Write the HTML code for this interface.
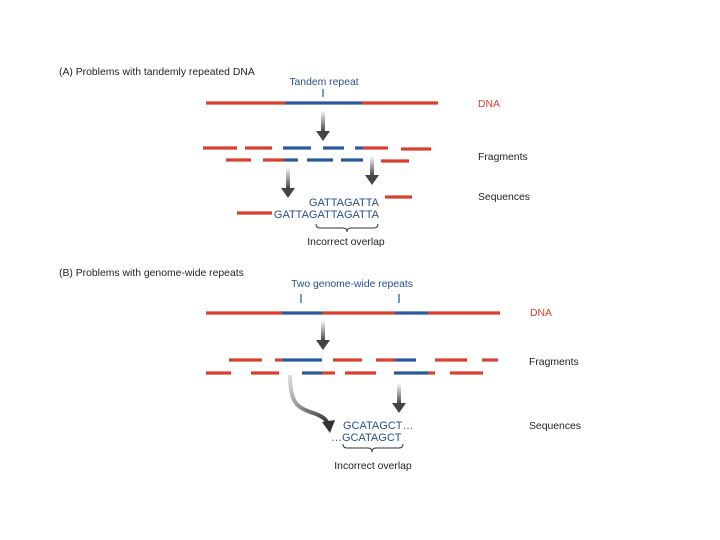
<!DOCTYPE html>
<html><head><meta charset="utf-8"><style>
html,body{margin:0;padding:0;background:#fff}
svg{display:block}
text{font-family:"Liberation Sans",sans-serif;font-size:10.4px}
.k{fill:#222}.b{fill:#2a4f8c}.r{fill:#d9402e}
.s{font-size:11px}
</style></head><body>
<svg width="720" height="540" viewBox="0 0 720 540" xmlns="http://www.w3.org/2000/svg">
<defs>
<linearGradient id="g" x1="0" y1="0" x2="0" y2="1"><stop offset="0" stop-color="#fff"/><stop offset="1" stop-color="#444"/></linearGradient>
<linearGradient id="g2" x1="0" y1="0" x2="1" y2="1"><stop offset="0" stop-color="#ddd"/><stop offset="1" stop-color="#333"/></linearGradient>
</defs>
<g stroke-width="3.2" fill="none">
<g stroke="#d9402e">
<line x1="206" y1="103" x2="285" y2="103"/><line x1="362" y1="103" x2="438" y2="103"/>
<line x1="203" y1="148" x2="237" y2="148"/><line x1="245" y1="148" x2="272" y2="148"/><line x1="363" y1="148" x2="388" y2="148"/><line x1="401" y1="149" x2="431" y2="149"/>
<line x1="226" y1="160" x2="251" y2="160"/><line x1="263" y1="160" x2="284" y2="160"/><line x1="381" y1="161" x2="409" y2="161"/>
<line x1="237" y1="213" x2="272" y2="213"/><line x1="385" y1="197" x2="412" y2="197"/>
</g>
<g stroke="#2a5a9a">
<line x1="285" y1="103" x2="362" y2="103"/>
<line x1="283" y1="148" x2="311" y2="148"/><line x1="323" y1="148" x2="344" y2="148"/><line x1="355" y1="148" x2="363" y2="148"/>
<line x1="284" y1="160" x2="298" y2="160"/><line x1="307" y1="160" x2="333" y2="160"/><line x1="341" y1="160" x2="363" y2="160"/>
</g>
<g stroke="#d9402e">
<line x1="206" y1="313" x2="282" y2="313"/><line x1="322" y1="313" x2="395" y2="313"/><line x1="428" y1="313" x2="500" y2="313"/>
<line x1="229" y1="360" x2="262" y2="360"/><line x1="275" y1="360" x2="282" y2="360"/><line x1="333" y1="360" x2="362" y2="360"/><line x1="376" y1="360" x2="395" y2="360"/><line x1="435" y1="360" x2="467" y2="360"/><line x1="482" y1="360" x2="498" y2="360"/>
<line x1="206" y1="373" x2="231" y2="373"/><line x1="251" y1="373" x2="279" y2="373"/><line x1="322" y1="373" x2="335" y2="373"/><line x1="345" y1="373" x2="376" y2="373"/><line x1="428" y1="373" x2="435" y2="373"/><line x1="450" y1="373" x2="483" y2="373"/>
</g>
<g stroke="#2a5a9a">
<line x1="282" y1="313" x2="322" y2="313"/><line x1="395" y1="313" x2="428" y2="313"/>
<line x1="282" y1="360" x2="322" y2="360"/><line x1="395" y1="360" x2="416" y2="360"/>
<line x1="302" y1="373" x2="322" y2="373"/><line x1="394" y1="373" x2="428" y2="373"/>
</g>
</g>
<g stroke="#2a5a9a" stroke-width="1.2">
<line x1="323" y1="89" x2="323" y2="97"/><line x1="301" y1="294" x2="301" y2="303"/><line x1="399" y1="294" x2="399" y2="303"/>
</g>
<g>
<rect x="321" y="110" width="4" height="22" fill="url(#g)"/><polygon points="316,131 330,131 323,141" fill="#444"/>
<rect x="286" y="167" width="4" height="22" fill="url(#g)"/><polygon points="281,188 295,188 288,198" fill="#444"/>
<rect x="370" y="156" width="4" height="20" fill="url(#g)"/><polygon points="365,175 379,175 372,185" fill="#444"/>
<rect x="321" y="320" width="4" height="21" fill="url(#g)"/><polygon points="316,340 330,340 323,350" fill="#444"/>
<rect x="397" y="383" width="4" height="21" fill="url(#g)"/><polygon points="392,403 406,403 399,413" fill="#444"/>
<path d="M290 375 C290 405 298 408 316 414 C323 417 326 419 328 424" stroke="url(#g2)" stroke-width="4" fill="none"/>
<polygon points="322,422 335,420 330,433" fill="#333"/>
</g>
<g stroke="#333" stroke-width="1" fill="none">
<path d="M316 224 Q316 228 320 228 L343 228 Q347 228 347 232 Q347 228 351 228 L374 228 Q378 228 378 224"/>
<path d="M343 444 Q343 448 347 448 L368 448 Q372 448 372 452 Q372 448 376 448 L399 448 Q403 448 403 444"/>
</g>
<text x="59" y="75" class="k">(A) Problems with tandemly repeated DNA</text>
<text x="324" y="85" class="b" text-anchor="middle">Tandem repeat</text>
<text x="478" y="107" class="r">DNA</text>
<text x="478" y="160" class="k">Fragments</text>
<text x="478" y="200" class="k">Sequences</text>
<text x="379" y="206" class="b s" text-anchor="end">GATTAGATTA</text>
<text x="379" y="218" class="b s" text-anchor="end">GATTAGATTAGATTA</text>
<text x="346" y="245" class="k" text-anchor="middle">Incorrect overlap</text>
<text x="59" y="276" class="k">(B) Problems with genome-wide repeats</text>
<text x="352" y="287" class="b" text-anchor="middle">Two genome-wide repeats</text>
<text x="530" y="316" class="r">DNA</text>
<text x="529" y="365" class="k">Fragments</text>
<text x="529" y="429" class="k">Sequences</text>
<text x="343" y="429" class="b s">GCATAGCT…</text>
<text x="331" y="441" class="b s">…GCATAGCT</text>
<text x="373" y="469" class="k" text-anchor="middle">Incorrect overlap</text>
</svg>
</body></html>
